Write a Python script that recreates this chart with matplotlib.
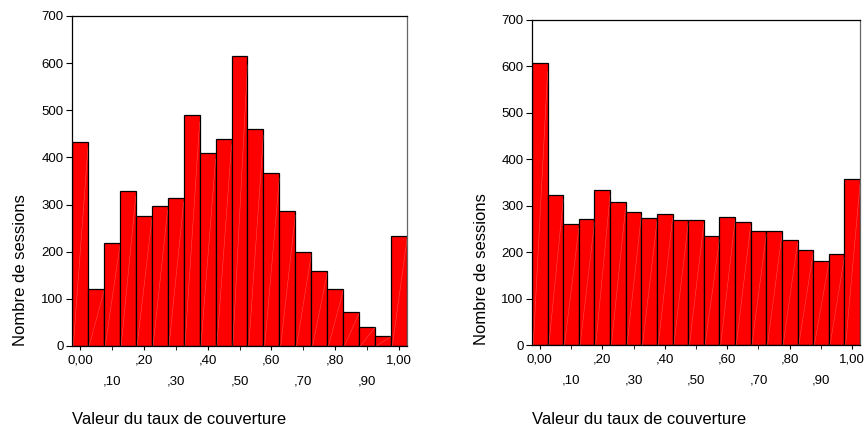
import numpy as np
import matplotlib.pyplot as plt

plt.rcParams['font.family'] = ['Liberation Sans', 'DejaVu Sans']

# centres des classes (taux de couverture)
bins = [0.00, 0.05, 0.10, 0.15, 0.20, 0.25, 0.30, 0.35, 0.40, 0.45, 0.50,
        0.55, 0.60, 0.65, 0.70, 0.75, 0.80, 0.85, 0.90, 0.95, 1.00]
counts_left = [433, 120, 219, 328, 276, 298, 315, 490, 409, 440, 615,
               461, 367, 286, 200, 159, 121, 72, 41, 21, 233]
counts_right = [607, 323, 260, 272, 333, 307, 287, 274, 282, 270, 270,
                234, 276, 266, 245, 245, 227, 204, 182, 195, 357]

major_ticks = [0.0, 0.2, 0.4, 0.6, 0.8, 1.0]
major_labels = ['0,00', ',20', ',40', ',60', ',80', '1,00']
minor_ticks = [0.1, 0.3, 0.5, 0.7, 0.9]
minor_labels = [',10', ',30', ',50', ',70', ',90']
yticks = [0, 100, 200, 300, 400, 500, 600, 700]

xlabel = 'Valeur du taux de couverture'
ylabel = 'Nombre de sessions'

W, H = 867, 429
fig = plt.figure(figsize=(W / 100, H / 100), dpi=100)


def draw_hist(rect, counts, xlab_x, ylab_x):
    ax = fig.add_axes(rect)
    w = 0.05
    ax.bar(bins, counts, width=w, color='#ff0000', edgecolor='black',
           linewidth=0.9, zorder=2)
    # petites diagonales claires dans chaque barre (style SPSS)
    for b, c in zip(bins, counts):
        ax.plot([b - w / 2 + 0.004, b + w / 2], [0, c * 0.97], color='white',
                lw=0.4, alpha=0.3, zorder=3)
    ax.set_xlim(-0.025, 1.025)
    ax.set_ylim(0, 700)
    ax.set_yticks(yticks)
    ax.set_yticklabels([str(v) for v in yticks])
    ax.set_xticks(major_ticks)
    ax.set_xticklabels(major_labels)
    ax.set_xticks(minor_ticks, minor=True)
    ax.set_xticklabels(minor_labels, minor=True)
    ax.tick_params(axis='x', which='major', length=3, pad=3, labelsize=9.5)
    ax.tick_params(axis='x', which='minor', length=3, pad=18, labelsize=9.5)
    ax.tick_params(axis='y', length=4, pad=2, labelsize=9.5)
    for s in ax.spines.values():
        s.set_linewidth(0.9)
    ax.spines['right'].set_color('#666666')
    fig.text(xlab_x, 1 - 420 / H, xlabel, fontsize=12, ha='left', va='center')
    fig.text(ylab_x, rect[1], ylabel, fontsize=12, rotation=90,
             ha='center', va='bottom')
    return ax


draw_hist([72 / W, 1 - 346 / H, 335 / W, 330 / H], counts_left, 72 / W, 21 / W)
draw_hist([532 / W, 1 - 345 / H, 328 / W, 325 / H], counts_right, 532 / W, 481 / W)

fig.savefig('out.png', dpi=100)
